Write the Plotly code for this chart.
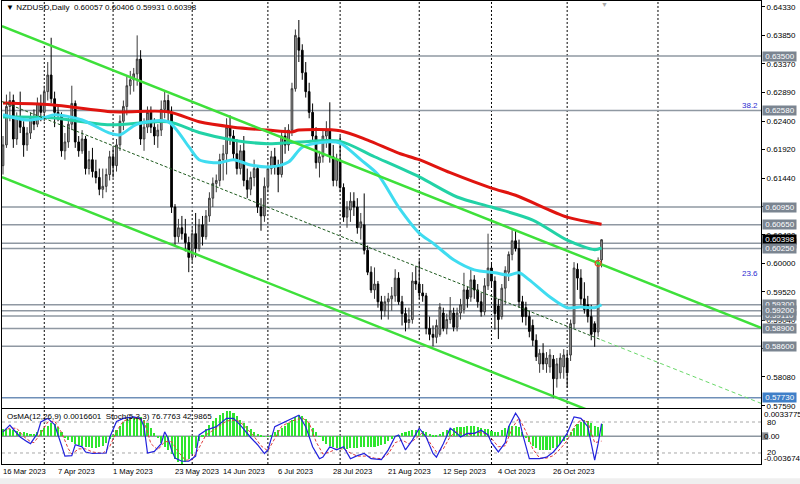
import plotly.graph_objects as go
import pandas as pd

# ---------------- data ----------------
bar_dates = pd.bdate_range("2023-03-16", "2023-11-15")

open_ = [
    0.6165, 0.6200, 0.6265, 0.6275, 0.6210, 0.6245, 0.6230, 0.6200, 0.6220, 0.6245,
    0.6235, 0.6270, 0.6255, 0.6290, 0.6318, 0.6278, 0.6255, 0.6250, 0.6190, 0.6205,
    0.6235, 0.6270, 0.6205, 0.6190, 0.6210, 0.6160, 0.6175, 0.6155, 0.6145, 0.6125,
    0.6130, 0.6150, 0.6180, 0.6165, 0.6200, 0.6240, 0.6265, 0.6300, 0.6310, 0.6320,
    0.6345, 0.6210, 0.6230, 0.6255, 0.6230, 0.6215, 0.6225, 0.6260, 0.6275, 0.6255,
    0.6095, 0.6045, 0.6060, 0.6050, 0.6035, 0.6010, 0.6050, 0.6025, 0.6065, 0.6045,
    0.6080, 0.6110, 0.6135, 0.6140, 0.6175, 0.6185, 0.6230, 0.6215, 0.6185, 0.6160,
    0.6190, 0.6140, 0.6125, 0.6145, 0.6160, 0.6095, 0.6080, 0.6130, 0.6160, 0.6180,
    0.6165, 0.6150, 0.6215, 0.6200, 0.6225, 0.6295, 0.6381, 0.6360, 0.6322, 0.6290,
    0.6255, 0.6215, 0.6170, 0.6180, 0.6215, 0.6225, 0.6180, 0.6140, 0.6175, 0.6128,
    0.6078, 0.6090, 0.6105, 0.6095, 0.6060, 0.6065, 0.6022, 0.5985, 0.5955, 0.5965,
    0.5935, 0.5920, 0.5935, 0.5940, 0.5945, 0.5975, 0.5935, 0.5915, 0.5900, 0.5905,
    0.5970, 0.5965, 0.5950, 0.5945, 0.5890, 0.5880, 0.5875, 0.5880, 0.5916, 0.5890,
    0.5905, 0.5916, 0.5892, 0.5916, 0.5922, 0.5955, 0.5943, 0.5972, 0.5955, 0.5935,
    0.5918, 0.5962, 0.5992, 0.5970, 0.5928, 0.5910, 0.5958, 0.5985, 0.6015, 0.6038,
    0.6025, 0.5935, 0.5925, 0.5910, 0.5895, 0.5870, 0.5830, 0.5848, 0.5830, 0.5825,
    0.5838, 0.5805, 0.5815, 0.5825, 0.5840, 0.5845, 0.5898, 0.5990, 0.5975, 0.5940,
    0.5930, 0.5910, 0.5898, 0.5884, 0.60057]
high = [
    0.6215, 0.6285, 0.6290, 0.6285, 0.6255, 0.6290, 0.6240, 0.6230, 0.6255, 0.6260,
    0.6280, 0.6285, 0.6300, 0.6340, 0.6381, 0.6290, 0.6265, 0.6255, 0.6220, 0.6245,
    0.6300, 0.6275, 0.6215, 0.6225, 0.6215, 0.6190, 0.6195, 0.6175, 0.6160, 0.6160,
    0.6160, 0.6190, 0.6195, 0.6210, 0.6250, 0.6275, 0.6315, 0.6325, 0.6330, 0.6385,
    0.6360, 0.6245, 0.6265, 0.6265, 0.6245, 0.6235, 0.6275, 0.6290, 0.6285, 0.6265,
    0.6100, 0.6075, 0.6080, 0.6075, 0.6045, 0.6060, 0.6085, 0.6075, 0.6080, 0.6090,
    0.6120, 0.6145, 0.6150, 0.6185, 0.6200, 0.6245, 0.6250, 0.6225, 0.6210, 0.6200,
    0.6215, 0.6160, 0.6155, 0.6175, 0.6165, 0.6110, 0.6145, 0.6170, 0.6190, 0.6195,
    0.6175, 0.6225, 0.6230, 0.6235, 0.6305, 0.6395, 0.6411, 0.6370, 0.6340, 0.6305,
    0.6270, 0.6230, 0.6190, 0.6225, 0.6240, 0.6272, 0.6200, 0.6185, 0.6215, 0.6135,
    0.6105, 0.6120, 0.6120, 0.6110, 0.6085, 0.6118, 0.6030, 0.5995, 0.5993, 0.5970,
    0.5945, 0.5945, 0.5950, 0.5960, 0.5990, 0.5985, 0.5945, 0.5925, 0.5925, 0.5985,
    0.5995, 0.6005, 0.5965, 0.5950, 0.5910, 0.5895, 0.5905, 0.5933, 0.5925, 0.5915,
    0.5943, 0.5925, 0.5925, 0.5940, 0.5984, 0.5960, 0.5990, 0.5980, 0.5965, 0.5950,
    0.5975, 0.6050, 0.6000, 0.5978, 0.5940, 0.5965, 0.5995, 0.6020, 0.6056, 0.6056,
    0.6040, 0.5945, 0.5935, 0.5920, 0.5905, 0.5880, 0.5855, 0.5865, 0.5850, 0.5855,
    0.5845, 0.5840, 0.5848, 0.5855, 0.5850, 0.5905, 0.6002, 0.6000, 0.5990, 0.5968,
    0.5945, 0.5930, 0.5902, 0.6010, 0.60406]
low = [
    0.6150, 0.6195, 0.6240, 0.6195, 0.6200, 0.6220, 0.6180, 0.6190, 0.6210, 0.6225,
    0.6230, 0.6240, 0.6240, 0.6275, 0.6270, 0.6230, 0.6240, 0.6180, 0.6175, 0.6195,
    0.6225, 0.6195, 0.6180, 0.6185, 0.6150, 0.6150, 0.6145, 0.6135, 0.6115, 0.6110,
    0.6120, 0.6140, 0.6145, 0.6155, 0.6190, 0.6225, 0.6250, 0.6285, 0.6290, 0.6300,
    0.6200, 0.6190, 0.6220, 0.6220, 0.6200, 0.6195, 0.6215, 0.6245, 0.6240, 0.6085,
    0.6030, 0.6035, 0.6040, 0.6020, 0.5985, 0.6000, 0.6010, 0.6020, 0.6030, 0.6040,
    0.6070, 0.6095, 0.6120, 0.6130, 0.6140, 0.6150, 0.6200, 0.6175, 0.6150, 0.6150,
    0.6130, 0.6110, 0.6115, 0.6130, 0.6085, 0.6055, 0.6070, 0.6120, 0.6150, 0.6150,
    0.6120, 0.6145, 0.6185, 0.6190, 0.6215, 0.6290, 0.6340, 0.6310, 0.6280, 0.6245,
    0.6205, 0.6160, 0.6145, 0.6170, 0.6195, 0.6170, 0.6130, 0.6130, 0.6120, 0.6070,
    0.6060, 0.6070, 0.6080, 0.6050, 0.6040, 0.6015, 0.5980, 0.5950, 0.5940, 0.5925,
    0.5905, 0.5910, 0.5905, 0.5920, 0.5935, 0.5930, 0.5895, 0.5885, 0.5890, 0.5898,
    0.5955, 0.5940, 0.5935, 0.5880, 0.5870, 0.5860, 0.5865, 0.5876, 0.5885, 0.5880,
    0.5898, 0.5885, 0.5885, 0.5905, 0.5915, 0.5925, 0.5935, 0.5940, 0.5925, 0.5910,
    0.5912, 0.5955, 0.5960, 0.5888, 0.5872, 0.5905, 0.5930, 0.5970, 0.6005, 0.6020,
    0.5925, 0.5900, 0.5895, 0.5875, 0.5860, 0.5835, 0.5815, 0.5820, 0.5815, 0.5815,
    0.5772, 0.5790, 0.5805, 0.5805, 0.5790, 0.5835, 0.5890, 0.5955, 0.5930, 0.5915,
    0.5900, 0.5870, 0.5859, 0.5876, 0.59931]
close = [
    0.6200, 0.6265, 0.6275, 0.6210, 0.6245, 0.6230, 0.6200, 0.6220, 0.6245, 0.6235,
    0.6270, 0.6255, 0.6290, 0.6318, 0.6278, 0.6255, 0.6250, 0.6190, 0.6205, 0.6235,
    0.6270, 0.6205, 0.6190, 0.6210, 0.6160, 0.6175, 0.6155, 0.6145, 0.6125, 0.6130,
    0.6150, 0.6180, 0.6165, 0.6200, 0.6240, 0.6265, 0.6300, 0.6310, 0.6320, 0.6345,
    0.6210, 0.6230, 0.6255, 0.6230, 0.6215, 0.6225, 0.6260, 0.6275, 0.6255, 0.6095,
    0.6045, 0.6060, 0.6050, 0.6035, 0.6010, 0.6050, 0.6025, 0.6065, 0.6045, 0.6080,
    0.6110, 0.6135, 0.6140, 0.6175, 0.6185, 0.6230, 0.6215, 0.6185, 0.6160, 0.6190,
    0.6140, 0.6125, 0.6145, 0.6160, 0.6095, 0.6080, 0.6130, 0.6160, 0.6180, 0.6165,
    0.6150, 0.6215, 0.6200, 0.6225, 0.6295, 0.6385, 0.6360, 0.6322, 0.6290, 0.6255,
    0.6215, 0.6170, 0.6180, 0.6215, 0.6225, 0.6180, 0.6140, 0.6175, 0.6128, 0.6078,
    0.6095, 0.6105, 0.6095, 0.6060, 0.6070, 0.6022, 0.5985, 0.5955, 0.5965, 0.5935,
    0.5920, 0.5935, 0.5940, 0.5945, 0.5975, 0.5935, 0.5915, 0.5900, 0.5905, 0.5970,
    0.5965, 0.5950, 0.5945, 0.5890, 0.5880, 0.5875, 0.5895, 0.5926, 0.5890, 0.5905,
    0.5920, 0.5892, 0.5916, 0.5930, 0.5955, 0.5940, 0.5972, 0.5955, 0.5935, 0.5918,
    0.5962, 0.5992, 0.5970, 0.5915, 0.5905, 0.5958, 0.5988, 0.6015, 0.6038, 0.6025,
    0.5935, 0.5910, 0.5910, 0.5885, 0.5870, 0.5842, 0.5848, 0.5830, 0.5840, 0.5845,
    0.5805, 0.5830, 0.5840, 0.5845, 0.5815, 0.5898, 0.5992, 0.5975, 0.5940, 0.5922,
    0.5910, 0.5880, 0.5884, 0.6002, 0.60398]

# OsMA histogram, in units of 1e-4
osma_e4 = [
    9, 10, 9, 8, 7, 6, 5, 4, 3, 3,
    5, 8, 11, 14, 17, 16, 12, 5, -2, -5,
    -8, -10, -12, -13, -14, -15, -16, -16, -15, -13,
    -9, -4, 2, 8, 14, 19, 23, 25, 26, 26,
    25, 22, 17, 11, 4, -3, -9, -14, -18, -24,
    -30, -34, -36.7, -34, -30, -24, -16, -7, 2, 9,
    15, 20, 24, 28, 31, 33.8, 33, 31, 27, 22,
    17, 13, 9, 6, 3, 1, -1, -1, 2, 5,
    8, 11, 14, 17, 22, 26, 28, 27, 23, 17,
    11, 5, -1, -6, -10, -13, -15, -16, -17, -17,
    -17, -16, -16, -16, -15, -15, -15, -14, -14, -13,
    -12, -10, -7, -4, -1, 2, 4, 6, 7, 8,
    8, 8, 7, 5, 3, 2, 2, 3, 5, 8,
    10, 11, 12, 12, 12, 13, 13, 13, 12, 11,
    10, 9, 7, 6, 6, 8, 11, 13, 14, 14,
    12, 6, -2, -8, -13, -16, -18, -19, -19, -18,
    -16, -14, -10, -6, -1, 5, 11, 16, 19, 21,
    20, 17, 13, 12, 16.601]

stoch_main_idx = [0, 2, 3, 5, 7, 8, 10, 11, 13, 15, 17, 18, 20, 21, 23, 24, 26, 29, 30, 31,
                  33, 35, 38, 40, 41, 42, 44, 46, 47, 48, 49, 50, 52, 54, 56, 57, 59, 62, 65, 67,
                  69, 72, 74, 76, 77, 79, 81, 83, 86, 88, 90, 92, 93, 95, 97, 99, 101, 103, 105, 107,
                  110, 112, 114, 115, 117, 119, 121, 123, 125, 126, 128, 130, 132, 133, 135, 137, 139, 141, 142, 144,
                  146, 147, 149, 150, 151, 153, 156, 158, 160, 162, 164, 166, 168, 170, 171, 172, 173, 174]
stoch_main_val = [61, 74, 66, 51, 42, 38, 58, 80, 87, 75, 35, 14, 15, 36, 32, 22, 19, 19, 20, 50,
                  81, 87, 90, 87, 71, 20, 23, 38, 61, 48, 26, 10, 4, 4, 14, 55, 64, 71, 87, 87,
                  74, 50, 36, 19, 26, 71, 77, 84, 93, 71, 32, 9, 12, 32, 26, 32, 9, 15, 19, 9,
                  7, 26, 52, 55, 26, 45, 68, 51, 19, 12, 38, 68, 58, 51, 58, 58, 64, 55, 40, 22,
                  40, 71, 97, 87, 58, 9, 9, 12, 22, 38, 58, 90, 87, 71, 38, 6, 38, 76.7763]
stoch_sig_idx = [0, 2, 4, 6, 8, 9, 11, 13, 15, 17, 19, 20, 22, 24, 26, 29, 31, 33, 35, 38,
                 41, 43, 45, 47, 49, 51, 53, 55, 57, 59, 62, 65, 68, 70, 73, 75, 77, 79, 81, 84,
                 87, 89, 91, 93, 95, 97, 99, 101, 103, 106, 108, 110, 112, 114, 116, 118, 120, 122, 124, 126,
                 128, 130, 132, 134, 136, 138, 140, 142, 144, 146, 148, 150, 152, 154, 156, 158, 160, 162, 164, 166,
                 168, 170, 172, 174]
stoch_sig_val = [62, 68, 68, 52, 42, 40, 58, 80, 82, 60, 28, 18, 28, 28, 22, 19, 32, 62, 82, 88,
                 82, 38, 26, 42, 42, 22, 6, 7, 30, 55, 68, 82, 84, 74, 52, 34, 24, 48, 72, 82,
                 88, 78, 42, 18, 22, 28, 28, 20, 14, 14, 10, 9, 18, 40, 45, 38, 48, 60, 42, 22,
                 28, 52, 62, 56, 56, 60, 58, 48, 32, 34, 68, 88, 62, 28, 10, 10, 15, 28, 44, 70,
                 85, 80, 40, 42.9865]

ma_red_idx = [0, 14, 32, 48, 57, 67, 77, 84, 86, 98, 106, 115, 121, 130, 142, 149, 164, 174]
ma_red_val = [0.6271, 0.6268, 0.6256, 0.6256, 0.6239, 0.6230, 0.6225, 0.6222, 0.6225, 0.6224,
              0.6208, 0.6186, 0.6175, 0.6153, 0.6127, 0.6115, 0.6078, 0.6066]
ma_teal_idx = [0, 14, 31, 48, 57, 67, 77, 86, 98, 108, 121, 132, 142, 154, 164, 172, 174]
ma_teal_val = [0.6247, 0.6246, 0.6234, 0.6239, 0.6221, 0.6208, 0.6202, 0.6205, 0.6206, 0.6180,
               0.6146, 0.6112, 0.6095, 0.6073, 0.6039, 0.6023, 0.6026]
ma_cyan_idx = [0, 7, 12, 15, 23, 31, 34, 39, 48, 54, 57, 63, 67, 72, 78, 83, 87, 94, 98, 104,
               109, 115, 121, 125, 131, 137, 143, 147, 150, 153, 159, 164, 168, 172, 174]
ma_cyan_val = [0.6251, 0.6242, 0.6246, 0.6251, 0.6242, 0.6220, 0.6217, 0.6235, 0.6239, 0.6197,
               0.6175, 0.6170, 0.6175, 0.6166, 0.6163, 0.6171, 0.6196, 0.6205, 0.6203, 0.6175,
               0.6150, 0.6095, 0.6051, 0.6034, 0.6006, 0.5989, 0.5984, 0.5980, 0.5984, 0.5972,
               0.5943, 0.5925, 0.5926, 0.5925, 0.5930]

levels = [0.6350, 0.6258, 0.6095, 0.6065, 0.6034, 0.5911, 0.5930, 0.5920, 0.5890, 0.5860, 0.5773]
level_support_blue = 0.5773
level_after_bid = 0.6025
bid_price = 0.60398

fib_marks = [("38.2", 0.6258), ("23.6", 0.5973)]

price_ticks = [0.6433, 0.6385, 0.6337, 0.6289, 0.6240, 0.6192, 0.6144, 0.6096,
               0.6048, 0.6000, 0.5952, 0.5904, 0.5856, 0.5808, 0.5759]

date_label_days = ["2023-03-16", "2023-04-07", "2023-05-01", "2023-05-23", "2023-06-14",
                   "2023-07-06", "2023-07-28", "2023-08-21", "2023-09-12", "2023-10-04",
                   "2023-10-26"]
month_grid_days = ["2023-04-03", "2023-05-01", "2023-06-01", "2023-07-03", "2023-08-01",
                   "2023-09-01", "2023-10-02", "2023-11-01"]

channel_idx = [0, 174]
channel_upper = [0.6400, 0.5998]
channel_lower = [0.6145, 0.5743]

# ---------------- styling / layout constants ----------------
FONT = "Liberation Sans, Arial, sans-serif"
X_RANGE = [-0.29, 220.35]
Y_RANGE = [0.57556, 0.64431]
MAIN_DOM = [0.121, 1.0]
IND_DOM = [0.0, 0.1188]
FUTURE_GRID = 190.4
LABEL_SHIFT = {"2023-05-23": 7}

n = len(close)
assert n == len(bar_dates) == len(open_) == len(high) == len(low) == len(osma_e4) == 175
idx = list(range(n))
pos = {d.strftime("%Y-%m-%d"): i for i, d in enumerate(bar_dates)}

fig = go.Figure()

fig.add_trace(go.Candlestick(
    x=idx, open=open_, high=high, low=low, close=close,
    xaxis="x", yaxis="y",
    increasing=dict(line=dict(color="#3a3a3a", width=1), fillcolor="#a6a6a6"),
    decreasing=dict(line=dict(color="#000000", width=1), fillcolor="#000000"),
    whiskerwidth=0, showlegend=False, hoverinfo="skip"))

for xi, yv, col in [(ma_red_idx, ma_red_val, "#e0140f"),
                    (ma_teal_idx, ma_teal_val, "#22d2a6"),
                    (ma_cyan_idx, ma_cyan_val, "#3fdcf0")]:
    fig.add_trace(go.Scatter(x=xi, y=yv, mode="lines", xaxis="x", yaxis="y",
                             line=dict(color=col, width=3, shape="spline", smoothing=0.8),
                             showlegend=False, hoverinfo="skip"))


def line_at(xa, ya, x):
    return ya[0] + (ya[1] - ya[0]) * (x - xa[0]) / (xa[1] - xa[0])


x_l, x_r = X_RANGE
for ya in (channel_upper, channel_lower):
    fig.add_trace(go.Scatter(x=[x_l, x_r], y=[line_at(channel_idx, ya, x_l), line_at(channel_idx, ya, x_r)],
                             mode="lines", xaxis="x", yaxis="y",
                             line=dict(color="#3ee03a", width=2.5), showlegend=False, hoverinfo="skip"))
mid = [(a + b) / 2 for a, b in zip(channel_upper, channel_lower)]
last = idx[-1]
fig.add_trace(go.Scatter(x=[x_l, last], y=[line_at(channel_idx, mid, x_l), line_at(channel_idx, mid, last)],
                         mode="lines", xaxis="x", yaxis="y",
                         line=dict(color="#1d5a1d", width=1, dash="3px,2px"), showlegend=False, hoverinfo="skip"))
fig.add_trace(go.Scatter(x=[last, x_r], y=[line_at(channel_idx, mid, last), line_at(channel_idx, mid, x_r)],
                         mode="lines", xaxis="x", yaxis="y",
                         line=dict(color="#6ad86a", width=1, dash="4px,3px"), showlegend=False, hoverinfo="skip"))

# small marker on the last breakout bar
fig.add_trace(go.Scatter(x=[idx[-2]], y=[close[-2] - 0.0002], mode="markers", xaxis="x", yaxis="y",
                         marker=dict(symbol="circle-open", size=6, color="#e05020", line=dict(width=1.2)),
                         showlegend=False, hoverinfo="skip"))

# indicator window
fig.add_trace(go.Bar(x=idx, y=[v * 1e-4 for v in osma_e4], xaxis="x2", yaxis="y2",
                     marker=dict(color="#2ee62e", line=dict(width=0)), width=0.6,
                     showlegend=False, hoverinfo="skip"))
fig.add_trace(go.Scatter(x=stoch_sig_idx, y=stoch_sig_val, mode="lines", xaxis="x2", yaxis="y3",
                         line=dict(color="#e03c3c", width=1, dash="3px,2px"), showlegend=False, hoverinfo="skip"))
fig.add_trace(go.Scatter(x=stoch_main_idx, y=stoch_main_val, mode="lines", xaxis="x2", yaxis="y3",
                         line=dict(color="#2222dd", width=1.2), showlegend=False, hoverinfo="skip"))

shapes = []
grid_pos = [pos[d] for d in month_grid_days] + [FUTURE_GRID]
for g in grid_pos:
    for xr, yr in (("x", "y domain"), ("x2", "y2 domain")):
        shapes.append(dict(type="line", xref=xr, yref=yr, x0=g, x1=g, y0=0, y1=1,
                           line=dict(color="#000000", width=1, dash="2px,2px"), layer="below"))
for lv in levels + [level_after_bid]:
    col = "#6f8fb8" if lv == level_support_blue else "#8f98a2"
    shapes.append(dict(type="line", xref="x domain", yref="y", x0=0, x1=1, y0=lv, y1=lv,
                       line=dict(color=col, width=1.5), layer="below"))
for s in (80, 20):
    shapes.append(dict(type="line", xref="x2 domain", yref="y3", x0=0, x1=1, y0=s, y1=s,
                       line=dict(color="#a8a8a8", width=1, dash="3px,3px"), layer="below"))
shapes.append(dict(type="line", xref="x2 domain", yref="y2", x0=0, x1=1, y0=0, y1=0,
                   line=dict(color="#8c96a0", width=1.5), layer="below"))
# bottom window strip
shapes.append(dict(type="rect", xref="paper", yref="paper", x0=-0.01, x1=1.06, y0=-0.045, y1=-0.031,
                   fillcolor="#efefef", line=dict(width=0), layer="below"))
# small marker box for the zero label
shapes.append(dict(type="rect", xref="paper", yref="y2", x0=1.0015, x1=1.0095, y0=-0.0005, y1=0.0005,
                   fillcolor="#8a8f96", line=dict(width=0)))

ann = []


def box_label(val, bg, text=None):
    ann.append(dict(xref="paper", x=1, xanchor="left", xshift=1, yref="y", y=val, yanchor="middle",
                    text="\u00a0" + (text or f"{val:.5f}") + "\u00a0", showarrow=False, borderpad=0,
                    bgcolor=bg, font=dict(family=FONT, size=8, color="white")))


for lv in levels:
    box_label(lv, "#3f7fc8" if lv == level_support_blue else "#7b8591")
box_label(bid_price, "#000000")
box_label(level_after_bid, "#7b8591")

for txt, lv in fib_marks:
    ann.append(dict(xref="paper", x=1, xanchor="right", xshift=-2, yref="y", y=lv, yanchor="bottom",
                    text=txt, showarrow=False, borderpad=0,
                    font=dict(family=FONT, size=8, color="#2b2bd0")))

for d in date_label_days:
    dt = pd.Timestamp(d)
    ann.append(dict(xref="x", x=pos[d], xanchor="left", xshift=-1 + LABEL_SHIFT.get(d, 0),
                    yref="paper", y=0, yanchor="top", yshift=-2,
                    text=f"{dt.day} {dt.strftime('%b')} {dt.year}", showarrow=False, borderpad=0,
                    font=dict(family=FONT, size=7.6, color="black")))

ann.append(dict(xref="paper", x=0, xanchor="left", xshift=3, yref="paper", y=1, yanchor="top", yshift=-1,
                text="\u25bc NZDUSD,Daily\u00a0 %.5f %.5f %.5f %.5f" % (open_[-1], high[-1], low[-1], close[-1]),
                showarrow=False, borderpad=0, font=dict(family=FONT, size=8, color="black")))
ann.append(dict(xref="paper", x=0, xanchor="left", xshift=4, yref="paper", y=IND_DOM[1], yanchor="top",
                yshift=-2,
                text="OsMA(12,26,9) %.7f\u00a0 Stoch(5,3,3) %.4f %.4f" % (
                    osma_e4[-1] * 1e-4, stoch_main_val[-1], stoch_sig_val[-1]),
                showarrow=False, borderpad=0, font=dict(family=FONT, size=8, color="black")))
ann.append(dict(xref="x", x=idx[-1] + 0.8, yref="paper", y=1, yanchor="top", yshift=1, text="\u25bc",
                showarrow=False, borderpad=0, font=dict(family=FONT, size=7, color="#a8a8a8")))

osma_max, osma_min = 0.0033775, -0.0036749
ann.append(dict(xref="paper", x=1, xanchor="left", xshift=2, yref="y2 domain", y=1, yanchor="top",
                text=f"{osma_max:.7f}", showarrow=False, borderpad=0,
                font=dict(family=FONT, size=8, color="black")))
ann.append(dict(xref="paper", x=1, xanchor="left", xshift=2, yref="y2 domain", y=0, yanchor="bottom",
                text=f"{osma_min:.7f}", showarrow=False, borderpad=0,
                font=dict(family=FONT, size=8, color="black")))
for s in (80, 20):
    ann.append(dict(xref="paper", x=1, xanchor="left", xshift=5, yref="y3", y=s, yanchor="middle",
                    text=str(s), showarrow=False, borderpad=0,
                    font=dict(family=FONT, size=8, color="black")))
ann.append(dict(xref="paper", x=1, xanchor="left", xshift=2, yref="y2", y=0, yanchor="middle",
                text="0.00", showarrow=False, borderpad=0,
                font=dict(family=FONT, size=8, color="black")))

axis_common = dict(showgrid=False, zeroline=False, showline=True, mirror=True,
                   linecolor="#000000", linewidth=1, fixedrange=True)

fig.update_layout(
    width=800, height=484,
    margin=dict(l=2, r=39, t=1, b=20),
    paper_bgcolor="white", plot_bgcolor="white",
    showlegend=False, bargap=0,
    font=dict(family=FONT, size=8, color="black"),
    xaxis=dict(domain=[0, 1], range=X_RANGE, anchor="y", showticklabels=False, ticks="",
               rangeslider=dict(visible=False), **axis_common),
    yaxis=dict(domain=MAIN_DOM, range=Y_RANGE, anchor="x", side="right",
               tickvals=price_ticks, ticktext=[f"{v:.5f}" for v in price_ticks],
               ticks="outside", ticklen=3, tickcolor="#000000",
               tickfont=dict(family=FONT, size=8, color="black"), **axis_common),
    xaxis2=dict(domain=[0, 1], range=X_RANGE, anchor="y2", showticklabels=False, ticks="", **axis_common),
    yaxis2=dict(domain=IND_DOM, range=[-0.0037, 0.0036], anchor="x2", showticklabels=False, ticks="",
                **axis_common),
    yaxis3=dict(overlaying="y2", range=[-1.3, 105.2], anchor="x2", visible=False, fixedrange=True),
    shapes=shapes, annotations=ann,
)

fig.write_html("out.html", config={"displayModeBar": False},
               post_script="document.body.style.margin='0';document.body.style.overflow='hidden';")
